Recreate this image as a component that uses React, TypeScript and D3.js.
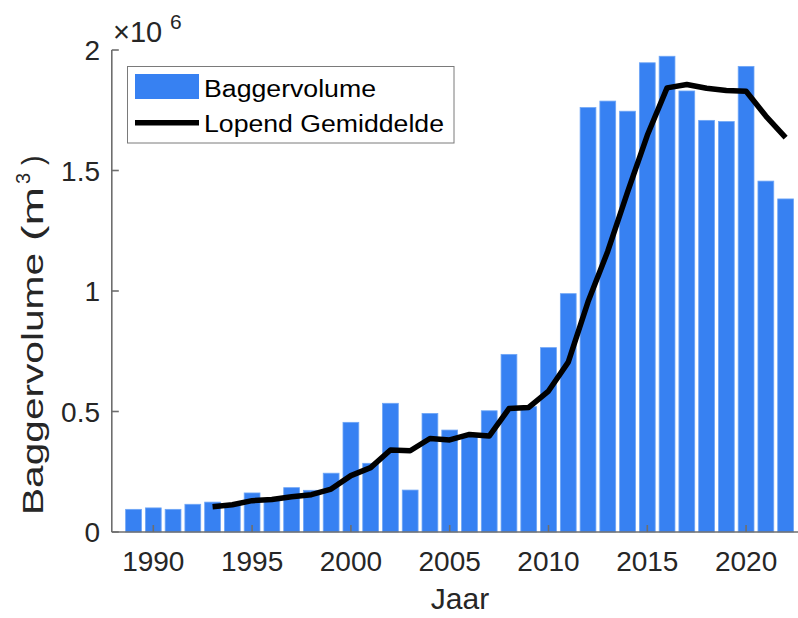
import * as d3 from 'd3'

const years = d3.range(1989, 2023)
const volumes = [
  94000, 100000, 94000, 115000, 124000, 117000, 162000, 135000, 184000, 173000,
  244000, 455000, 285000, 534000, 174000, 492000, 423000, 400000, 503000, 737000,
  520000, 765000, 989000, 1761000, 1788000, 1746000, 1947000, 1974000, 1830000, 1708000,
  1703000, 1932000, 1456000, 1382000,
]
const avgYears = d3.range(1993, 2023)
const avgValues = [
  105000, 113000, 130000, 135000, 146000, 155000, 178000, 234000, 267000, 340000,
  337000, 388000, 382000, 405000, 398000, 512000, 517000, 585000, 705000, 955000,
  1165000, 1410000, 1646000, 1843000, 1857000, 1841000, 1832000, 1829000, 1726000, 1636000,
]
const xTicks = [1990, 1995, 2000, 2005, 2010, 2015, 2020]
const yTicks = [0, 500000, 1000000, 1500000, 2000000]
const yTickLabels = ['0', '0.5', '1', '1.5', '2']

const W = 798
const H = 618
const FONT = '"Liberation Sans", Arial, Helvetica, sans-serif'
const TEXT = '#262626'
const AXIS = '#6e6e6e'
const BLUE = '#3781f2'

export default function App() {
  const x = d3.scaleLinear().domain([1987.9, 2023]).range([111.8, 111.8 + 35.1 * 19.76])
  const y = d3.scaleLinear().domain([0, 2000000]).range([532, 50])
  const bw = 0.8 * 19.76
  const line = d3.line<number>()
    .x((_, i) => x(avgYears[i]))
    .y((d) => y(d))

  return (
    <div style={{ position: 'fixed', left: 0, top: 0 }}>
      <svg width={W} height={H} style={{ display: 'block', background: '#fff' }} fontFamily={FONT}>
        {/* bars */}
        {volumes.map((v, i) => (
          <rect key={years[i]} x={x(years[i]) - bw / 2} y={y(v)} width={bw} height={y(0) - y(v)}
            fill={BLUE} stroke="#6fa6f6" strokeWidth={0.8} />
        ))}

        {/* axes on top of bars */}
        <line x1={x.range()[0]} x2={W} y1={y(0)} y2={y(0)} stroke={AXIS} strokeWidth={1.6} />
        <line x1={x.range()[0]} x2={x.range()[0]} y1={y(0)} y2={y(2000000)} stroke={AXIS} strokeWidth={1.6} />
        {xTicks.map((t) => (
          <g key={t}>
            <line x1={x(t)} x2={x(t)} y1={y(0)} y2={y(0) - 7} stroke={AXIS} strokeWidth={1.6} />
            <text x={x(t)} y={571} textAnchor="middle" fontSize={28} fill={TEXT}>{t}</text>
          </g>
        ))}
        {yTicks.map((t, i) => (
          <g key={t}>
            <line x1={x.range()[0]} x2={x.range()[0] + 7} y1={y(t)} y2={y(t)} stroke={AXIS} strokeWidth={1.6} />
            <text x={100} y={y(t)} dy="0.36em" textAnchor="end" fontSize={28} fill={TEXT}>{yTickLabels[i]}</text>
          </g>
        ))}

        {/* running average */}
        <path d={line(avgValues) ?? ''} fill="none" stroke="#000" strokeWidth={5.5} strokeLinejoin="round" />

        {/* exponent */}
        <text x={113} y={42} fontSize={29} fill={TEXT}>×10</text>
        <text x={170} y={29} fontSize={21} fill={TEXT}>6</text>

        {/* axis labels */}
        <text x={460} y={609} textAnchor="middle" fontSize={30} fill={TEXT}>Jaar</text>
        <g transform="translate(43,515) rotate(-90)">
          <text x={0} y={0} fontSize={29} fill={TEXT} textLength={262} lengthAdjust="spacingAndGlyphs">Baggervolume</text>
          <text x={274} y={0} fontSize={29} fill={TEXT} textLength={54} lengthAdjust="spacingAndGlyphs">(m</text>
          <text x={331} y={-13} fontSize={20} fill={TEXT}>3</text>
          <text x={350} y={0} fontSize={29} fill={TEXT}>)</text>
        </g>

        {/* legend */}
        <rect x={127.5} y={66.5} width={326.5} height={76.5} fill="#fff" stroke="#7a7a7a" strokeWidth={1} />
        <rect x={135} y={74} width={64} height={25} fill={BLUE} />
        <line x1={135} x2={199} y1={122.7} y2={122.7} stroke="#000" strokeWidth={5.5} />
        <text x={204} y={96.5} fontSize={23} fill="#000" textLength={172} lengthAdjust="spacingAndGlyphs">Baggervolume</text>
        <text x={204} y={132} fontSize={23} fill="#000" textLength={240} lengthAdjust="spacingAndGlyphs">Lopend Gemiddelde</text>
      </svg>
    </div>
  )
}
